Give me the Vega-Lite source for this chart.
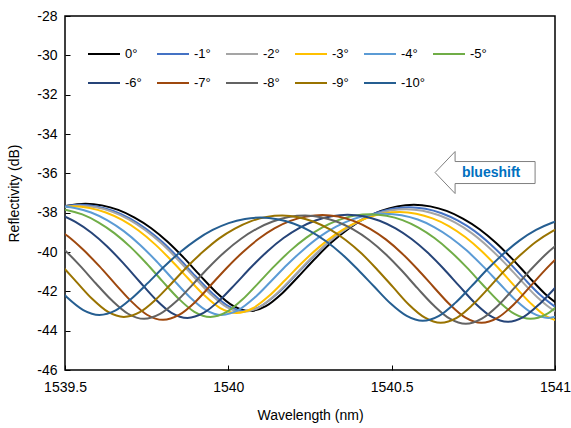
{
  "$schema": "https://vega.github.io/schema/vega-lite/v6.json",
  "width": 490,
  "height": 354,
  "autosize": {"type": "none"},
  "padding": {"left": 65, "top": 16, "right": 16, "bottom": 58},
  "background": "white",
  "datasets": {
    "curves": [
      {"angle":"0°","wl":1539.462,"db":-37.86},{"angle":"0°","wl":1539.512,"db":-37.63},{"angle":"0°","wl":1539.563,"db":-37.55},{"angle":"0°","wl":1539.613,"db":-37.63},{"angle":"0°","wl":1539.663,"db":-37.86},{"angle":"0°","wl":1539.713,"db":-38.25},{"angle":"0°","wl":1539.764,"db":-38.79},{"angle":"0°","wl":1539.814,"db":-39.48},{"angle":"0°","wl":1539.864,"db":-40.30},{"angle":"0°","wl":1539.914,"db":-41.20},{"angle":"0°","wl":1539.965,"db":-42.08},{"angle":"0°","wl":1540.015,"db":-42.74},{"angle":"0°","wl":1540.065,"db":-43.00},{"angle":"0°","wl":1540.115,"db":-42.75},{"angle":"0°","wl":1540.166,"db":-42.08},{"angle":"0°","wl":1540.216,"db":-41.22},{"angle":"0°","wl":1540.266,"db":-40.33},{"angle":"0°","wl":1540.316,"db":-39.51},{"angle":"0°","wl":1540.367,"db":-38.83},{"angle":"0°","wl":1540.417,"db":-38.29},{"angle":"0°","wl":1540.467,"db":-37.91},{"angle":"0°","wl":1540.517,"db":-37.68},{"angle":"0°","wl":1540.568,"db":-37.60},{"angle":"0°","wl":1540.618,"db":-37.68},{"angle":"0°","wl":1540.668,"db":-37.91},{"angle":"0°","wl":1540.718,"db":-38.30},{"angle":"0°","wl":1540.769,"db":-38.84},{"angle":"0°","wl":1540.819,"db":-39.53},{"angle":"0°","wl":1540.869,"db":-40.35},{"angle":"0°","wl":1540.919,"db":-41.25},{"angle":"0°","wl":1540.970,"db":-42.13},{"angle":"0°","wl":1541.020,"db":-42.79},

      {"angle":"-1°","wl":1539.497,"db":-37.68},{"angle":"-1°","wl":1539.548,"db":-37.60},{"angle":"-1°","wl":1539.598,"db":-37.68},{"angle":"-1°","wl":1539.648,"db":-37.91},{"angle":"-1°","wl":1539.698,"db":-38.29},{"angle":"-1°","wl":1539.749,"db":-38.83},{"angle":"-1°","wl":1539.799,"db":-39.51},{"angle":"-1°","wl":1539.849,"db":-40.33},{"angle":"-1°","wl":1539.899,"db":-41.22},{"angle":"-1°","wl":1539.950,"db":-42.08},{"angle":"-1°","wl":1540.000,"db":-42.75},{"angle":"-1°","wl":1540.050,"db":-43.00},{"angle":"-1°","wl":1540.100,"db":-42.75},{"angle":"-1°","wl":1540.151,"db":-42.10},{"angle":"-1°","wl":1540.201,"db":-41.26},{"angle":"-1°","wl":1540.251,"db":-40.39},{"angle":"-1°","wl":1540.301,"db":-39.59},{"angle":"-1°","wl":1540.352,"db":-38.92},{"angle":"-1°","wl":1540.402,"db":-38.40},{"angle":"-1°","wl":1540.452,"db":-38.02},{"angle":"-1°","wl":1540.502,"db":-37.80},{"angle":"-1°","wl":1540.553,"db":-37.72},{"angle":"-1°","wl":1540.603,"db":-37.80},{"angle":"-1°","wl":1540.653,"db":-38.03},{"angle":"-1°","wl":1540.703,"db":-38.41},{"angle":"-1°","wl":1540.754,"db":-38.94},{"angle":"-1°","wl":1540.804,"db":-39.63},{"angle":"-1°","wl":1540.854,"db":-40.44},{"angle":"-1°","wl":1540.904,"db":-41.33},{"angle":"-1°","wl":1540.955,"db":-42.19},{"angle":"-1°","wl":1541.005,"db":-42.85},

      {"angle":"-2°","wl":1539.495,"db":-37.73},{"angle":"-2°","wl":1539.545,"db":-37.65},{"angle":"-2°","wl":1539.595,"db":-37.73},{"angle":"-2°","wl":1539.645,"db":-37.96},{"angle":"-2°","wl":1539.695,"db":-38.34},{"angle":"-2°","wl":1539.745,"db":-38.88},{"angle":"-2°","wl":1539.795,"db":-39.56},{"angle":"-2°","wl":1539.845,"db":-40.38},{"angle":"-2°","wl":1539.895,"db":-41.27},{"angle":"-2°","wl":1539.945,"db":-42.13},{"angle":"-2°","wl":1539.995,"db":-42.80},{"angle":"-2°","wl":1540.045,"db":-43.05},{"angle":"-2°","wl":1540.095,"db":-42.81},{"angle":"-2°","wl":1540.145,"db":-42.16},{"angle":"-2°","wl":1540.195,"db":-41.33},{"angle":"-2°","wl":1540.245,"db":-40.46},{"angle":"-2°","wl":1540.295,"db":-39.67},{"angle":"-2°","wl":1540.345,"db":-39.01},{"angle":"-2°","wl":1540.395,"db":-38.49},{"angle":"-2°","wl":1540.445,"db":-38.12},{"angle":"-2°","wl":1540.495,"db":-37.89},{"angle":"-2°","wl":1540.545,"db":-37.82},{"angle":"-2°","wl":1540.595,"db":-37.90},{"angle":"-2°","wl":1540.645,"db":-38.13},{"angle":"-2°","wl":1540.695,"db":-38.51},{"angle":"-2°","wl":1540.745,"db":-39.04},{"angle":"-2°","wl":1540.795,"db":-39.73},{"angle":"-2°","wl":1540.845,"db":-40.54},{"angle":"-2°","wl":1540.895,"db":-41.43},{"angle":"-2°","wl":1540.945,"db":-42.29},{"angle":"-2°","wl":1540.995,"db":-42.95},{"angle":"-2°","wl":1541.045,"db":-43.20},

      {"angle":"-3°","wl":1539.475,"db":-37.76},{"angle":"-3°","wl":1539.525,"db":-37.68},{"angle":"-3°","wl":1539.575,"db":-37.76},{"angle":"-3°","wl":1539.625,"db":-37.99},{"angle":"-3°","wl":1539.675,"db":-38.37},{"angle":"-3°","wl":1539.725,"db":-38.91},{"angle":"-3°","wl":1539.775,"db":-39.60},{"angle":"-3°","wl":1539.825,"db":-40.42},{"angle":"-3°","wl":1539.875,"db":-41.31},{"angle":"-3°","wl":1539.925,"db":-42.18},{"angle":"-3°","wl":1539.975,"db":-42.85},{"angle":"-3°","wl":1540.025,"db":-43.10},{"angle":"-3°","wl":1540.075,"db":-42.86},{"angle":"-3°","wl":1540.125,"db":-42.23},{"angle":"-3°","wl":1540.175,"db":-41.41},{"angle":"-3°","wl":1540.225,"db":-40.56},{"angle":"-3°","wl":1540.275,"db":-39.79},{"angle":"-3°","wl":1540.325,"db":-39.14},{"angle":"-3°","wl":1540.375,"db":-38.63},{"angle":"-3°","wl":1540.425,"db":-38.26},{"angle":"-3°","wl":1540.475,"db":-38.04},{"angle":"-3°","wl":1540.525,"db":-37.97},{"angle":"-3°","wl":1540.575,"db":-38.05},{"angle":"-3°","wl":1540.625,"db":-38.29},{"angle":"-3°","wl":1540.675,"db":-38.68},{"angle":"-3°","wl":1540.725,"db":-39.24},{"angle":"-3°","wl":1540.775,"db":-39.95},{"angle":"-3°","wl":1540.825,"db":-40.79},{"angle":"-3°","wl":1540.875,"db":-41.71},{"angle":"-3°","wl":1540.925,"db":-42.60},{"angle":"-3°","wl":1540.975,"db":-43.29},{"angle":"-3°","wl":1541.025,"db":-43.55},

      {"angle":"-4°","wl":1539.48,"db":-37.68},{"angle":"-4°","wl":1539.53,"db":-37.76},{"angle":"-4°","wl":1539.58,"db":-37.99},{"angle":"-4°","wl":1539.63,"db":-38.39},{"angle":"-4°","wl":1539.68,"db":-38.94},{"angle":"-4°","wl":1539.73,"db":-39.64},{"angle":"-4°","wl":1539.78,"db":-40.47},{"angle":"-4°","wl":1539.83,"db":-41.38},{"angle":"-4°","wl":1539.88,"db":-42.26},{"angle":"-4°","wl":1539.93,"db":-42.94},{"angle":"-4°","wl":1539.98,"db":-43.20},{"angle":"-4°","wl":1540.03,"db":-42.96},{"angle":"-4°","wl":1540.08,"db":-42.33},{"angle":"-4°","wl":1540.13,"db":-41.50},{"angle":"-4°","wl":1540.18,"db":-40.65},{"angle":"-4°","wl":1540.23,"db":-39.88},{"angle":"-4°","wl":1540.28,"db":-39.22},{"angle":"-4°","wl":1540.33,"db":-38.71},{"angle":"-4°","wl":1540.38,"db":-38.34},{"angle":"-4°","wl":1540.43,"db":-38.12},{"angle":"-4°","wl":1540.48,"db":-38.05},{"angle":"-4°","wl":1540.53,"db":-38.13},{"angle":"-4°","wl":1540.58,"db":-38.35},{"angle":"-4°","wl":1540.63,"db":-38.73},{"angle":"-4°","wl":1540.68,"db":-39.26},{"angle":"-4°","wl":1540.73,"db":-39.93},{"angle":"-4°","wl":1540.78,"db":-40.73},{"angle":"-4°","wl":1540.83,"db":-41.60},{"angle":"-4°","wl":1540.88,"db":-42.45},{"angle":"-4°","wl":1540.93,"db":-43.10},{"angle":"-4°","wl":1540.98,"db":-43.35},{"angle":"-4°","wl":1541.03,"db":-43.11},

      {"angle":"-5°","wl":1539.455,"db":-37.78},{"angle":"-5°","wl":1539.504,"db":-37.86},{"angle":"-5°","wl":1539.553,"db":-38.09},{"angle":"-5°","wl":1539.602,"db":-38.49},{"angle":"-5°","wl":1539.651,"db":-39.04},{"angle":"-5°","wl":1539.700,"db":-39.74},{"angle":"-5°","wl":1539.749,"db":-40.57},{"angle":"-5°","wl":1539.798,"db":-41.48},{"angle":"-5°","wl":1539.847,"db":-42.36},{"angle":"-5°","wl":1539.896,"db":-43.04},{"angle":"-5°","wl":1539.945,"db":-43.30},{"angle":"-5°","wl":1539.994,"db":-43.06},{"angle":"-5°","wl":1540.043,"db":-42.42},{"angle":"-5°","wl":1540.092,"db":-41.58},{"angle":"-5°","wl":1540.141,"db":-40.72},{"angle":"-5°","wl":1540.190,"db":-39.93},{"angle":"-5°","wl":1540.239,"db":-39.27},{"angle":"-5°","wl":1540.288,"db":-38.75},{"angle":"-5°","wl":1540.337,"db":-38.38},{"angle":"-5°","wl":1540.386,"db":-38.15},{"angle":"-5°","wl":1540.435,"db":-38.08},{"angle":"-5°","wl":1540.484,"db":-38.16},{"angle":"-5°","wl":1540.533,"db":-38.38},{"angle":"-5°","wl":1540.582,"db":-38.76},{"angle":"-5°","wl":1540.631,"db":-39.29},{"angle":"-5°","wl":1540.680,"db":-39.97},{"angle":"-5°","wl":1540.729,"db":-40.77},{"angle":"-5°","wl":1540.778,"db":-41.65},{"angle":"-5°","wl":1540.827,"db":-42.50},{"angle":"-5°","wl":1540.876,"db":-43.15},{"angle":"-5°","wl":1540.925,"db":-43.40},{"angle":"-5°","wl":1540.974,"db":-43.16},{"angle":"-5°","wl":1541.023,"db":-42.52},

      {"angle":"-6°","wl":1539.483,"db":-38.07},{"angle":"-6°","wl":1539.532,"db":-38.47},{"angle":"-6°","wl":1539.581,"db":-39.02},{"angle":"-6°","wl":1539.630,"db":-39.73},{"angle":"-6°","wl":1539.679,"db":-40.58},{"angle":"-6°","wl":1539.728,"db":-41.50},{"angle":"-6°","wl":1539.777,"db":-42.40},{"angle":"-6°","wl":1539.826,"db":-43.09},{"angle":"-6°","wl":1539.875,"db":-43.35},{"angle":"-6°","wl":1539.924,"db":-43.10},{"angle":"-6°","wl":1539.973,"db":-42.46},{"angle":"-6°","wl":1540.022,"db":-41.62},{"angle":"-6°","wl":1540.071,"db":-40.75},{"angle":"-6°","wl":1540.120,"db":-39.96},{"angle":"-6°","wl":1540.169,"db":-39.29},{"angle":"-6°","wl":1540.218,"db":-38.77},{"angle":"-6°","wl":1540.267,"db":-38.40},{"angle":"-6°","wl":1540.316,"db":-38.18},{"angle":"-6°","wl":1540.365,"db":-38.10},{"angle":"-6°","wl":1540.414,"db":-38.18},{"angle":"-6°","wl":1540.463,"db":-38.41},{"angle":"-6°","wl":1540.512,"db":-38.80},{"angle":"-6°","wl":1540.561,"db":-39.34},{"angle":"-6°","wl":1540.610,"db":-40.03},{"angle":"-6°","wl":1540.659,"db":-40.85},{"angle":"-6°","wl":1540.708,"db":-41.75},{"angle":"-6°","wl":1540.757,"db":-42.63},{"angle":"-6°","wl":1540.806,"db":-43.29},{"angle":"-6°","wl":1540.855,"db":-43.55},{"angle":"-6°","wl":1540.904,"db":-43.30},{"angle":"-6°","wl":1540.953,"db":-42.64},{"angle":"-6°","wl":1541.002,"db":-41.79},

      {"angle":"-7°","wl":1539.459,"db":-38.64},{"angle":"-7°","wl":1539.508,"db":-39.19},{"angle":"-7°","wl":1539.556,"db":-39.89},{"angle":"-7°","wl":1539.605,"db":-40.72},{"angle":"-7°","wl":1539.654,"db":-41.63},{"angle":"-7°","wl":1539.703,"db":-42.51},{"angle":"-7°","wl":1539.751,"db":-43.19},{"angle":"-7°","wl":1539.800,"db":-43.45},{"angle":"-7°","wl":1539.849,"db":-43.20},{"angle":"-7°","wl":1539.898,"db":-42.55},{"angle":"-7°","wl":1539.946,"db":-41.69},{"angle":"-7°","wl":1539.995,"db":-40.81},{"angle":"-7°","wl":1540.044,"db":-40.01},{"angle":"-7°","wl":1540.093,"db":-39.33},{"angle":"-7°","wl":1540.141,"db":-38.80},{"angle":"-7°","wl":1540.190,"db":-38.42},{"angle":"-7°","wl":1540.239,"db":-38.20},{"angle":"-7°","wl":1540.288,"db":-38.12},{"angle":"-7°","wl":1540.336,"db":-38.20},{"angle":"-7°","wl":1540.385,"db":-38.43},{"angle":"-7°","wl":1540.434,"db":-38.82},{"angle":"-7°","wl":1540.483,"db":-39.37},{"angle":"-7°","wl":1540.531,"db":-40.06},{"angle":"-7°","wl":1540.580,"db":-40.89},{"angle":"-7°","wl":1540.629,"db":-41.79},{"angle":"-7°","wl":1540.678,"db":-42.67},{"angle":"-7°","wl":1540.726,"db":-43.34},{"angle":"-7°","wl":1540.775,"db":-43.60},{"angle":"-7°","wl":1540.824,"db":-43.35},{"angle":"-7°","wl":1540.873,"db":-42.68},{"angle":"-7°","wl":1540.921,"db":-41.81},{"angle":"-7°","wl":1540.970,"db":-40.91},{"angle":"-7°","wl":1541.019,"db":-40.09},

      {"angle":"-8°","wl":1539.447,"db":-39.15},{"angle":"-8°","wl":1539.496,"db":-39.85},{"angle":"-8°","wl":1539.545,"db":-40.68},{"angle":"-8°","wl":1539.594,"db":-41.59},{"angle":"-8°","wl":1539.644,"db":-42.47},{"angle":"-8°","wl":1539.693,"db":-43.14},{"angle":"-8°","wl":1539.742,"db":-43.40},{"angle":"-8°","wl":1539.791,"db":-43.15},{"angle":"-8°","wl":1539.841,"db":-42.51},{"angle":"-8°","wl":1539.890,"db":-41.67},{"angle":"-8°","wl":1539.939,"db":-40.80},{"angle":"-8°","wl":1539.988,"db":-40.01},{"angle":"-8°","wl":1540.038,"db":-39.34},{"angle":"-8°","wl":1540.087,"db":-38.82},{"angle":"-8°","wl":1540.136,"db":-38.45},{"angle":"-8°","wl":1540.185,"db":-38.22},{"angle":"-8°","wl":1540.235,"db":-38.15},{"angle":"-8°","wl":1540.284,"db":-38.23},{"angle":"-8°","wl":1540.333,"db":-38.46},{"angle":"-8°","wl":1540.382,"db":-38.85},{"angle":"-8°","wl":1540.432,"db":-39.40},{"angle":"-8°","wl":1540.481,"db":-40.10},{"angle":"-8°","wl":1540.530,"db":-40.93},{"angle":"-8°","wl":1540.579,"db":-41.84},{"angle":"-8°","wl":1540.629,"db":-42.72},{"angle":"-8°","wl":1540.678,"db":-43.39},{"angle":"-8°","wl":1540.727,"db":-43.65},{"angle":"-8°","wl":1540.776,"db":-43.39},{"angle":"-8°","wl":1540.826,"db":-42.72},{"angle":"-8°","wl":1540.875,"db":-41.84},{"angle":"-8°","wl":1540.924,"db":-40.93},{"angle":"-8°","wl":1540.973,"db":-40.10},{"angle":"-8°","wl":1541.023,"db":-39.40},

      {"angle":"-9°","wl":1539.438,"db":-39.81},{"angle":"-9°","wl":1539.486,"db":-40.63},{"angle":"-9°","wl":1539.535,"db":-41.52},{"angle":"-9°","wl":1539.583,"db":-42.38},{"angle":"-9°","wl":1539.632,"db":-43.05},{"angle":"-9°","wl":1539.680,"db":-43.30},{"angle":"-9°","wl":1539.729,"db":-43.06},{"angle":"-9°","wl":1539.777,"db":-42.43},{"angle":"-9°","wl":1539.826,"db":-41.60},{"angle":"-9°","wl":1539.874,"db":-40.75},{"angle":"-9°","wl":1539.923,"db":-39.98},{"angle":"-9°","wl":1539.971,"db":-39.32},{"angle":"-9°","wl":1540.020,"db":-38.81},{"angle":"-9°","wl":1540.068,"db":-38.44},{"angle":"-9°","wl":1540.117,"db":-38.22},{"angle":"-9°","wl":1540.165,"db":-38.15},{"angle":"-9°","wl":1540.214,"db":-38.23},{"angle":"-9°","wl":1540.262,"db":-38.46},{"angle":"-9°","wl":1540.311,"db":-38.85},{"angle":"-9°","wl":1540.359,"db":-39.39},{"angle":"-9°","wl":1540.408,"db":-40.08},{"angle":"-9°","wl":1540.456,"db":-40.90},{"angle":"-9°","wl":1540.505,"db":-41.80},{"angle":"-9°","wl":1540.553,"db":-42.68},{"angle":"-9°","wl":1540.602,"db":-43.34},{"angle":"-9°","wl":1540.650,"db":-43.60},{"angle":"-9°","wl":1540.699,"db":-43.35},{"angle":"-9°","wl":1540.747,"db":-42.70},{"angle":"-9°","wl":1540.796,"db":-41.85},{"angle":"-9°","wl":1540.844,"db":-40.97},{"angle":"-9°","wl":1540.893,"db":-40.17},{"angle":"-9°","wl":1540.941,"db":-39.49},{"angle":"-9°","wl":1540.990,"db":-38.96},{"angle":"-9°","wl":1541.038,"db":-38.58},

      {"angle":"-10°","wl":1539.457,"db":-41.45},{"angle":"-10°","wl":1539.506,"db":-42.30},{"angle":"-10°","wl":1539.556,"db":-42.95},{"angle":"-10°","wl":1539.605,"db":-43.20},{"angle":"-10°","wl":1539.655,"db":-42.97},{"angle":"-10°","wl":1539.704,"db":-42.36},{"angle":"-10°","wl":1539.754,"db":-41.57},{"angle":"-10°","wl":1539.803,"db":-40.75},{"angle":"-10°","wl":1539.853,"db":-40.00},{"angle":"-10°","wl":1539.902,"db":-39.38},{"angle":"-10°","wl":1539.952,"db":-38.88},{"angle":"-10°","wl":1540.001,"db":-38.53},{"angle":"-10°","wl":1540.051,"db":-38.32},{"angle":"-10°","wl":1540.100,"db":-38.25},{"angle":"-10°","wl":1540.150,"db":-38.33},{"angle":"-10°","wl":1540.199,"db":-38.55},{"angle":"-10°","wl":1540.249,"db":-38.92},{"angle":"-10°","wl":1540.298,"db":-39.44},{"angle":"-10°","wl":1540.348,"db":-40.11},{"angle":"-10°","wl":1540.397,"db":-40.90},{"angle":"-10°","wl":1540.447,"db":-41.77},{"angle":"-10°","wl":1540.496,"db":-42.61},{"angle":"-10°","wl":1540.546,"db":-43.25},{"angle":"-10°","wl":1540.595,"db":-43.50},{"angle":"-10°","wl":1540.645,"db":-43.25},{"angle":"-10°","wl":1540.694,"db":-42.60},{"angle":"-10°","wl":1540.744,"db":-41.75},{"angle":"-10°","wl":1540.793,"db":-40.88},{"angle":"-10°","wl":1540.843,"db":-40.08},{"angle":"-10°","wl":1540.892,"db":-39.41},{"angle":"-10°","wl":1540.942,"db":-38.88},{"angle":"-10°","wl":1540.991,"db":-38.51},{"angle":"-10°","wl":1541.041,"db":-38.28}
    ],
    "note": [{"label": "blueshift", "wl": 1540.786, "db": -35.96}]
  },
  "layer": [
    {
      "data": {"name": "curves"},
      "mark": {"type": "line", "interpolate": "monotone", "strokeWidth": 2, "clip": true},
      "encoding": {
        "x": {"field": "wl", "type": "quantitative", "scale": {"domain": [1539.5, 1541], "nice": false, "zero": false},
              "axis": {"title": "Wavelength (nm)", "values": [1539.5, 1540, 1540.5, 1541], "tickCount": 10, "labelExpr": "'' + datum.value", "labelFlush": false, "labelOverlap": false, "tickSize": -5, "labelPadding": 15, "titlePadding": 14}},
        "y": {"field": "db", "type": "quantitative", "scale": {"domain": [-46, -28], "nice": false, "zero": false},
              "axis": {"title": "Reflectivity (dB)", "values": [-46, -44, -42, -40, -38, -36, -34, -32, -30, -28], "tickCount": 20, "labelExpr": "'' + datum.value", "labelOverlap": false, "tickSize": -5, "labelPadding": 13, "titlePadding": 15}},
        "color": {"field": "angle", "type": "nominal",
          "scale": {"domain": ["0°","-1°","-2°","-3°","-4°","-5°","-6°","-7°","-8°","-9°","-10°"],
                    "range": ["#000000","#4472C4","#A5A5A5","#FFC000","#5B9BD5","#70AD47","#264478","#9E480E","#636363","#997300","#255E91"]},
          "legend": {"orient": "none", "legendX": 22, "legendY": 21, "direction": "horizontal", "columns": 6, "title": null,
                     "symbolType": "stroke", "symbolSize": 1024, "symbolStrokeWidth": 2, "labelFont": "Liberation Sans", "labelFontSize": 13,
                     "labelColor": "#000", "labelOffset": 4, "columnPadding": 4, "rowPadding": 5, "gridAlign": "all"}}
      }
    },
    {
      "data": {"name": "note"},
      "mark": {"type": "point", "shape": "M-1,0L-0.6,-0.42L-0.6,-0.22L1,-0.22L1,0.22L-0.6,0.22L-0.6,0.42Z", "size": 10000, "filled": true, "fill": "white", "stroke": "#7F7F7F", "strokeWidth": 1, "opacity": 1},
      "encoding": {"x": {"field": "wl", "type": "quantitative"}, "y": {"field": "db", "type": "quantitative"}}
    },
    {
      "data": {"name": "note"},
      "mark": {"type": "text", "font": "Liberation Sans", "fontSize": 14, "fontWeight": "bold", "color": "#0070C0", "dx": 6},
      "encoding": {"x": {"field": "wl", "type": "quantitative"}, "y": {"field": "db", "type": "quantitative"}, "text": {"field": "label"}}
    }
  ],
  "config": {
    "view": {"stroke": "#000", "strokeWidth": 1.5},
    "axis": {"grid": false, "domain": false, "labelFont": "Liberation Sans", "labelFontSize": 14, "labelColor": "#000",
             "titleFont": "Liberation Sans", "titleFontSize": 14, "titleFontWeight": "normal", "titleColor": "#000",
             "tickColor": "#000", "labelOverlap": false}
  }
}
